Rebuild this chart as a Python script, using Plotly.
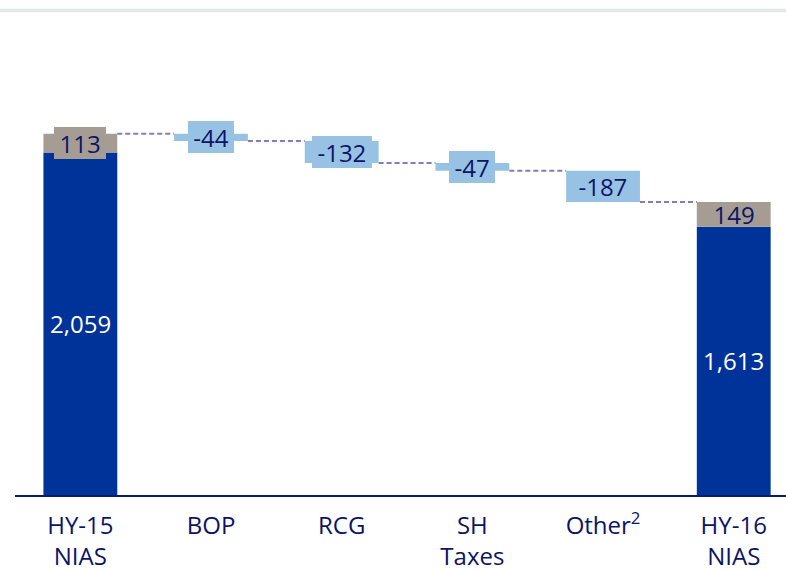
import plotly.graph_objects as go

# ---- data ----
categories = ["HY-15<br>NIAS", "BOP", "RCG", "SH<br>Taxes", "Other<sup>2</sup>", "HY-16<br>NIAS"]
start_main = 2059
start_extra = 113
deltas = [-44, -132, -47, -187]
end_main = 1613
end_extra = 149

# ---- styles ----
DARK_BLUE = "#00339a"
GREY = "#a59d94"
LIGHT_BLUE = "#98c2e4"
NAVY = "#0c1466"
DASH = "#7f7eb6"
FONT = "Open Sans"
BAR_W = 0.565
Y_MAX = 2916
PLOT_H = 485  # pixel height of plot area

n = len(categories)

start_total = start_main + start_extra
# running totals
levels = [start_total]
for d in deltas:
    levels.append(levels[-1] + d)

fig = go.Figure()

# stacked ends
fig.add_trace(go.Bar(x=[categories[0], categories[-1]], y=[start_main, end_main], base=[0, 0],
                     marker=dict(color=DARK_BLUE, line=dict(width=0)), width=BAR_W, hoverinfo="skip"))
fig.add_trace(go.Bar(x=[categories[0], categories[-1]], y=[start_extra, end_extra],
                     base=[start_main, end_main],
                     marker=dict(color=GREY, line=dict(width=0)), width=BAR_W, hoverinfo="skip"))
# floating deltas
fig.add_trace(go.Bar(x=categories[1:-1], y=[abs(d) for d in deltas],
                     base=[levels[i + 1] for i in range(len(deltas))],
                     marker=dict(color=LIGHT_BLUE, line=dict(width=0)), width=BAR_W, hoverinfo="skip"))


def box_width(s):
    w = 0
    for ch in s:
        w += 7.7 if ch == "-" else (6.3 if ch == "," else 13.7)
    return w + 11


annotations = []
# labels with boxes (box only where the segment is thinner than the text)
box_labels = [(0, start_main + start_extra / 2, start_extra, GREY)]
for i, d in enumerate(deltas):
    box_labels.append((i + 1, levels[i + 1] + abs(d) / 2, d, LIGHT_BLUE))
box_labels.append((n - 1, end_main + end_extra / 2, end_extra, GREY))
for x, y, v, c in box_labels:
    t = str(v)
    seg = abs(v) * PLOT_H / Y_MAX
    bg = c if seg < 24 else "rgba(0,0,0,0)"
    annotations.append(dict(x=x, y=y, xref="x", yref="y", text=t, showarrow=False,
                            bgcolor=bg, borderpad=0, borderwidth=0, width=box_width(t),
                            height=32, align="center", valign="middle",
                            font=dict(family=FONT, size=24, color=NAVY)))
# inside white labels
for x, v in [(0, start_main), (n - 1, end_main)]:
    annotations.append(dict(x=x, y=v / 2, xref="x", yref="y", text=f"{v:,}", showarrow=False,
                            font=dict(family=FONT, size=24, color="white")))

shapes = []
# connectors
for i in range(n - 1):
    lvl = levels[i]
    shapes.append(dict(type="line", xref="x", yref="y", x0=i + BAR_W / 2, x1=i + 1 - BAR_W / 2,
                       y0=lvl, y1=lvl, line=dict(color=DASH, width=2, dash="5px,3px"), layer="below"))
# top grey rule
shapes.append(dict(type="line", xref="paper", yref="paper", x0=-0.03, x1=1.0, y0=0.999, y1=0.999,
                   line=dict(color="#e3e9e7", width=3.5)))

fig.update_layout(
    width=786, height=571,
    margin=dict(l=15, r=0, t=10, b=76),
    paper_bgcolor="white", plot_bgcolor="white",
    barmode="overlay", showlegend=False,
    annotations=annotations, shapes=shapes,
    font=dict(family=FONT, color=NAVY),
)
fig.update_xaxes(type="category", categoryorder="array", categoryarray=categories,
                 range=[-0.5, 5.4], showline=True, linecolor="#0a1a6e", linewidth=2,
                 showgrid=False, zeroline=False, ticks="", ticklabelstandoff=8,
                 tickfont=dict(family=FONT, size=24, color=NAVY))
fig.update_yaxes(range=[0, Y_MAX], visible=False, showgrid=False, zeroline=False)

fig.write_html("out.html", config={"displayModeBar": False})

# remove the default page margin so the figure sits at the window's top-left corner
with open("out.html", "r", encoding="utf-8") as f:
    html = f.read()
html = html.replace("<head>", "<head><style>html,body{margin:0;padding:0;overflow:hidden;}</style>", 1)
with open("out.html", "w", encoding="utf-8") as f:
    f.write(html)
